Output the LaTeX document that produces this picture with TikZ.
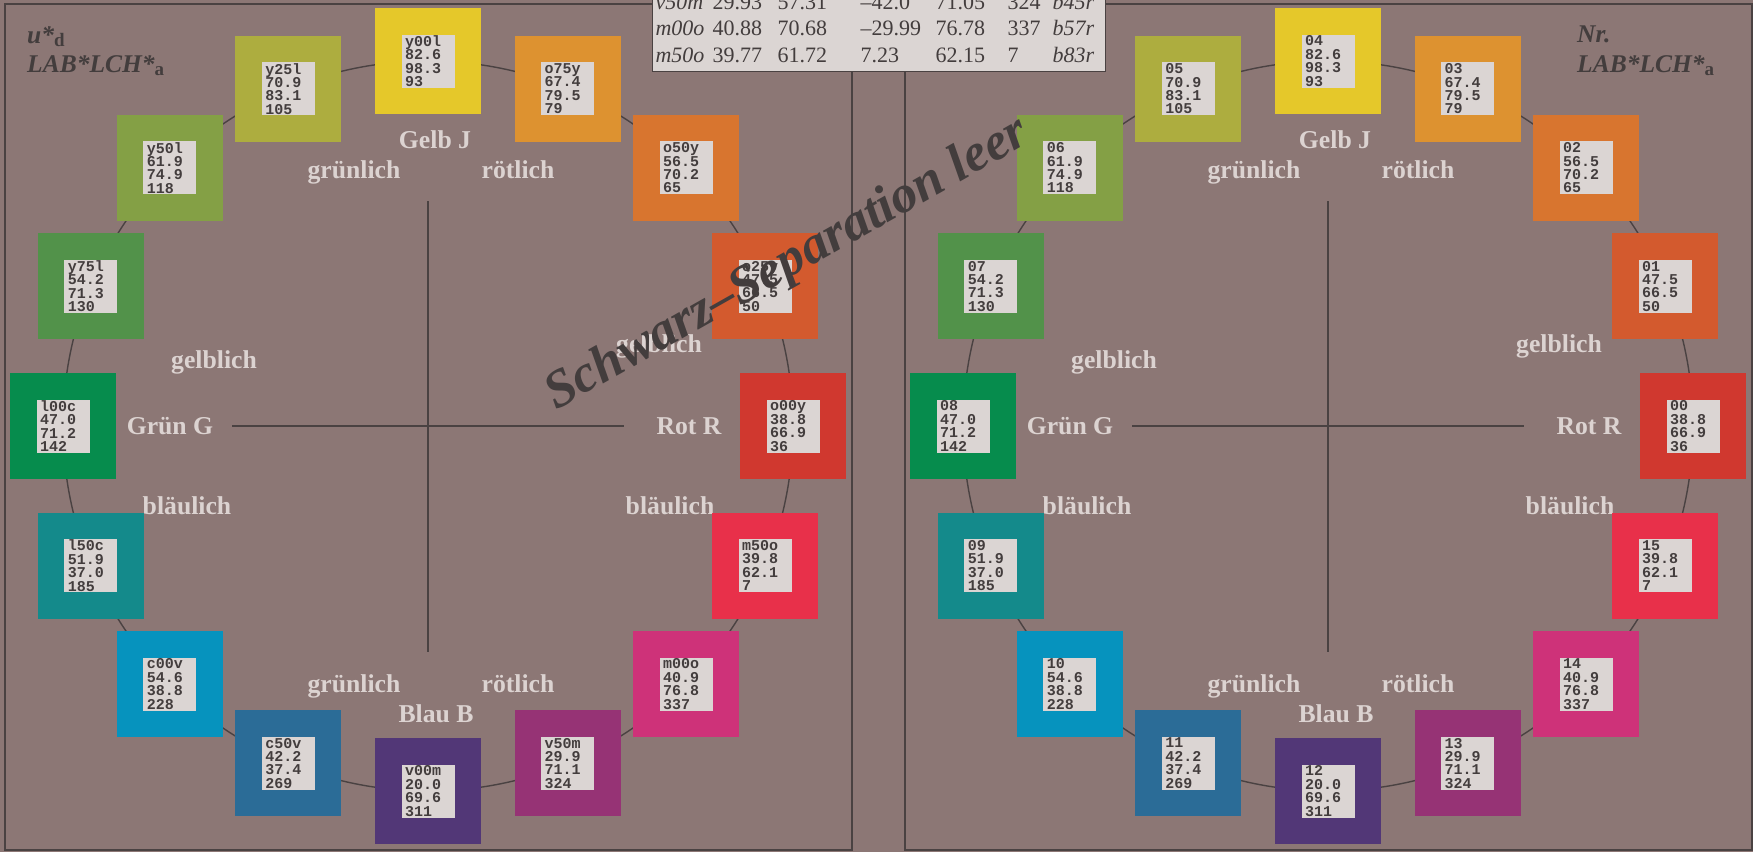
\documentclass[tikz,border=0pt]{standalone}
\usepackage{fontspec}
\setmainfont{Liberation Serif}
\setmonofont{Liberation Mono}
\usepackage{array}
\usepackage{tikz}
\definecolor{bgc}{HTML}{8C7775}
\definecolor{frame}{HTML}{4A4242}
\definecolor{darktext}{HTML}{433D3D}
\definecolor{lightlbl}{HTML}{DCD3D1}
\definecolor{boxgray}{HTML}{DBD5D3}
\definecolor{hue0}{HTML}{D0382F}
\definecolor{hue1}{HTML}{D35A2E}
\definecolor{hue2}{HTML}{D8752F}
\definecolor{hue3}{HTML}{DD9230}
\definecolor{hue4}{HTML}{E5C82A}
\definecolor{hue5}{HTML}{ADAD3F}
\definecolor{hue6}{HTML}{84A045}
\definecolor{hue7}{HTML}{52924A}
\definecolor{hue8}{HTML}{068C4D}
\definecolor{hue9}{HTML}{148A8B}
\definecolor{hue10}{HTML}{0693BE}
\definecolor{hue11}{HTML}{2B6C97}
\definecolor{hue12}{HTML}{523777}
\definecolor{hue13}{HTML}{963375}
\definecolor{hue14}{HTML}{CE3279}
\definecolor{hue15}{HTML}{E8304A}
\newcommand{\lowsub}[1]{\raisebox{-3.5bp}{\fontsize{19bp}{19bp}\selectfont\upshape #1}}

\begin{document}
\begin{tikzpicture}[
      x=1bp, y=-1bp,
      sq/.style={minimum size=106bp, inner sep=0pt, outer sep=0pt},
      databox/.style={fill=boxgray, text=darktext, align=left, text width=46bp,
                      inner xsep=3.5bp, inner ysep=0pt, minimum height=53bp,
                      font=\fontsize{15bp}{13.4bp}\selectfont\ttfamily\bfseries},
      lbl/.style={text=lightlbl, anchor=base, inner sep=0pt,
                  font=\fontsize{25.7bp}{28bp}\selectfont\bfseries},
      hdr/.style={text=darktext, anchor=base west, inner sep=0pt,
                  font=\fontsize{25.5bp}{29bp}\selectfont\bfseries\itshape},
      ring/.style={draw=frame, line width=1.4bp},
      axis/.style={draw=frame, line width=1.6bp},
      panel/.style={draw=frame, line width=2bp},
      tab/.style={draw=frame, fill=boxgray, line width=1.2bp, text=darktext,
                  inner xsep=3bp, inner ysep=1bp,
                  font=\fontsize{22bp}{26.5bp}\selectfont},
    ]
    \useasboundingbox (0,0) rectangle (1753,852);
    \clip (0,0) rectangle (1753,852);
    \fill[bgc] (0,0) rectangle (1753,852);

    % two panels: hue circle, axes and hue words
    \foreach \p/\dx in {L/0, R/900}{
      \draw[panel] (5+\dx,4) rectangle (852+\dx,850);
      \coordinate (c\p) at (428+\dx,426);
      \draw[ring] (c\p) circle[radius=365];
      \coordinate (g\p) at (232+\dx,426);
      \coordinate (r\p) at (624+\dx,426);
      \coordinate (j\p) at (428+\dx,201);
      \coordinate (b\p) at (428+\dx,652);
      \draw[axis] (g\p) -- (r\p);
      \draw[axis] (j\p) -- (b\p);
      \node[lbl] (gelb\p) at (435+\dx,148) {Gelb J};
      \node[lbl] (gruenJ\p) at (354+\dx,178) {grünlich};
      \node[lbl] (roetJ\p) at (518+\dx,178) {rötlich};
      \node[lbl] (gelbG\p) at (214+\dx,368) {gelblich};
      \node[lbl] (gelbR\p) at (659+\dx,352) {gelblich};
      \node[lbl] (gruen\p) at (170+\dx,434) {Grün G};
      \node[lbl] (rot\p) at (689+\dx,434) {Rot R};
      \node[lbl] (blauG\p) at (187+\dx,514) {bläulich};
      \node[lbl] (blauR\p) at (670+\dx,514) {bläulich};
      \node[lbl] (gruenB\p) at (354+\dx,692) {grünlich};
      \node[lbl] (roetB\p) at (518+\dx,692) {rötlich};
      \node[lbl] (blau\p) at (436+\dx,722) {Blau B};
    }

    % 16 hue samples, left with names, right with numbers
    \foreach \i/\nm/\lv/\cv/\hv/\nr in {0/o00y/38.8/66.9/36/00, 1/o25y/47.5/66.5/50/01,
        2/o50y/56.5/70.2/65/02, 3/o75y/67.4/79.5/79/03, 4/y00l/82.6/98.3/93/04,
        5/y25l/70.9/83.1/105/05, 6/y50l/61.9/74.9/118/06, 7/y75l/54.2/71.3/130/07,
        8/l00c/47.0/71.2/142/08, 9/l50c/51.9/37.0/185/09, 10/c00v/54.6/38.8/228/10,
        11/c50v/42.2/37.4/269/11, 12/v00m/20.0/69.6/311/12, 13/v50m/29.9/71.1/324/13,
        14/m00o/40.9/76.8/337/14, 15/m50o/39.8/62.1/7/15}{
      \node[sq, fill=hue\i] (L-\i) at ({428+365*cos(22.5*\i)},{426-365*sin(22.5*\i)}) {};
      \node[databox] (Ld-\i) at (L-\i) {\nm\\\lv\\\cv\\\hv};
      \node[sq, fill=hue\i] (R-\i) at ({1328+365*cos(22.5*\i)},{426-365*sin(22.5*\i)}) {};
      \node[databox] (Rd-\i) at (R-\i) {\nr\\\lv\\\cv\\\hv};
    }

    \node[text=darktext, anchor=base, rotate=29.5, inner sep=0pt,
          font=\fontsize{53bp}{60bp}\selectfont\bfseries\itshape] (stamp)
          at (794,276) {Schwarz--Separation leer};

    % data table, cut at the top
    \node[tab, anchor=south west] (tab) at (652,72) {%
      \begin{tabular}{@{}>{\itshape}p{57bp}@{}p{65bp}@{}p{83bp}@{}p{75bp}@{}p{72bp}@{}p{45bp}@{}>{\itshape}p{50bp}@{}}
        v50m & 29.93 & 57.31 & --42.0 & 71.05 & 324 & b45r\\
        m00o & 40.88 & 70.68 & --29.99 & 76.78 & 337 & b57r\\
        m50o & 39.77 & 61.72 & 7.23 & 62.15 & 7 & b83r
      \end{tabular}};

    % corner titles
    \node[hdr] (udL) at (27,43) {u*\lowsub{d}};
    \node[hdr] (labL) at (27,72) {LAB*LCH*\lowsub{a}};
    \node[hdr] (nrR) at (1577,42) {Nr.};
    \node[hdr] (labR) at (1577,72) {LAB*LCH*\lowsub{a}};
  \end{tikzpicture}
\end{document}
